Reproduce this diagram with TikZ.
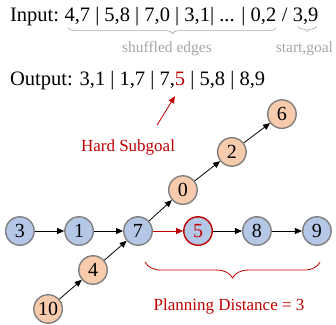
\documentclass[tikz,border=0pt]{standalone}
\usepackage{fontspec}
\setmainfont{Liberation Serif}
\usepackage{xcolor}
\usetikzlibrary{
    arrows.meta,
    positioning,
    decorations.pathreplacing
}
\definecolor{pathblue}{HTML}{B4C7E7}
\definecolor{sideorange}{HTML}{F8CBAD}
\definecolor{ringgray}{HTML}{7F7F7F}
\definecolor{hardred}{HTML}{C00000}
\definecolor{notegray}{HTML}{A6A6A6}

\begin{document}
\begin{tikzpicture}[
        state/.style={
            circle,
            draw=ringgray,
            line width=1.4pt,
            minimum size=28.5pt,
            inner sep=0pt,
            font=\fontsize{20}{24}\selectfont
        },
        onpath/.style={state, fill=pathblue},
        offpath/.style={state, fill=sideorange},
        hard/.style={onpath, draw=hardred, text=hardred},
        edge/.style={-{Triangle[length=7pt,width=6pt]}, line width=0.8pt},
        seq/.style={
            inner sep=0pt,
            anchor=base west,
            font=\fontsize{20.5}{24}\selectfont
        },
        note/.style={
            inner sep=0pt,
            anchor=base,
            text=notegray,
            font=\fontsize{15.5}{18}\selectfont
        },
        rednote/.style={
            inner sep=0pt,
            anchor=base,
            text=hardred,
            font=\fontsize{17}{20}\selectfont
        },
        gbrace/.style={
            decorate,
            decoration={brace, mirror, amplitude=#1},
            draw=notegray,
            line width=0.6pt
        }
    ]
    \useasboundingbox (0,0) rectangle (11.81,11.39);

    % input and output sequences
    \node[seq] (inlab) at (0.35,10.65) {Input:};
    \node[seq] (edges) at ([xshift=5pt]inlab.base east) {4,7 | 5,8 | 7,0 | 3,1| ... | 0,2};
    \node[seq] (slash) at ([xshift=5pt]edges.base east) {/};
    \node[seq] (sg) at ([xshift=5pt]slash.base east) {3,9};

    \draw[gbrace=6pt] ([xshift=4pt,yshift=-2pt]edges.south west) -- ([yshift=-2pt]edges.south east);
    \draw[gbrace=5pt] ([xshift=5pt,yshift=-2pt]sg.south west) -- ([xshift=-2pt,yshift=-2pt]sg.south east);
    \node[note] (shuf) at (5.87,9.53) {shuffled edges};
    \node[note] (sgnote) at (10.70,9.53) {start,goal};

    \node[seq] (outseq) at (0.35,8.37) {Output: 3,1 | 1,7 | 7,{\color{hardred}5} | 5,8 | 8,9};

    % graph
    \node[onpath] (n3) at (0.70,3.27) {3};
    \node[onpath] (n1) at (2.78,3.27) {1};
    \node[onpath] (n7) at (4.85,3.27) {7};
    \node[hard] (n5) at (6.96,3.27) {5};
    \node[onpath] (n8) at (9.03,3.27) {8};
    \node[onpath] (n9) at (11.14,3.27) {9};

    \node[offpath] (n4) at (3.27,1.90) {4};
    \node[offpath] (n10) at (1.69,0.53) {10};
    \node[offpath] (n0) at (6.43,4.71) {0};
    \node[offpath] (n2) at (8.15,6.05) {2};
    \node[offpath] (n6) at (9.91,7.38) {6};

    \draw[edge] (n3) -- (n1);
    \draw[edge] (n1) -- (n7);
    \draw[edge, hardred] (n7) -- (n5);
    \draw[edge] (n5) -- (n8);
    \draw[edge] (n8) -- (n9);
    \draw[edge] (n10) -- (n4);
    \draw[edge] (n4) -- (n7);
    \draw[edge] (n7) -- (n0);
    \draw[edge] (n0) -- (n2);
    \draw[edge] (n2) -- (n6);

    % annotations
    \node[rednote] (hs) at (4.50,6.08) {Hard Subgoal};
    \coordinate (hsfrom) at (5.52,6.99);
    \coordinate (hsto) at (6.15,8.01);
    \draw[-{Triangle[length=7pt,width=6pt]}, hardred, line width=0.8pt] (hsfrom) -- (hsto);

    \draw[gbrace=16pt, draw=hardred, line width=0.8pt] (5.10,2.18) -- (11.25,2.18);
    \node[rednote] (pd) at (8.05,0.46) {Planning Distance = 3};

\end{tikzpicture}
\end{document}
